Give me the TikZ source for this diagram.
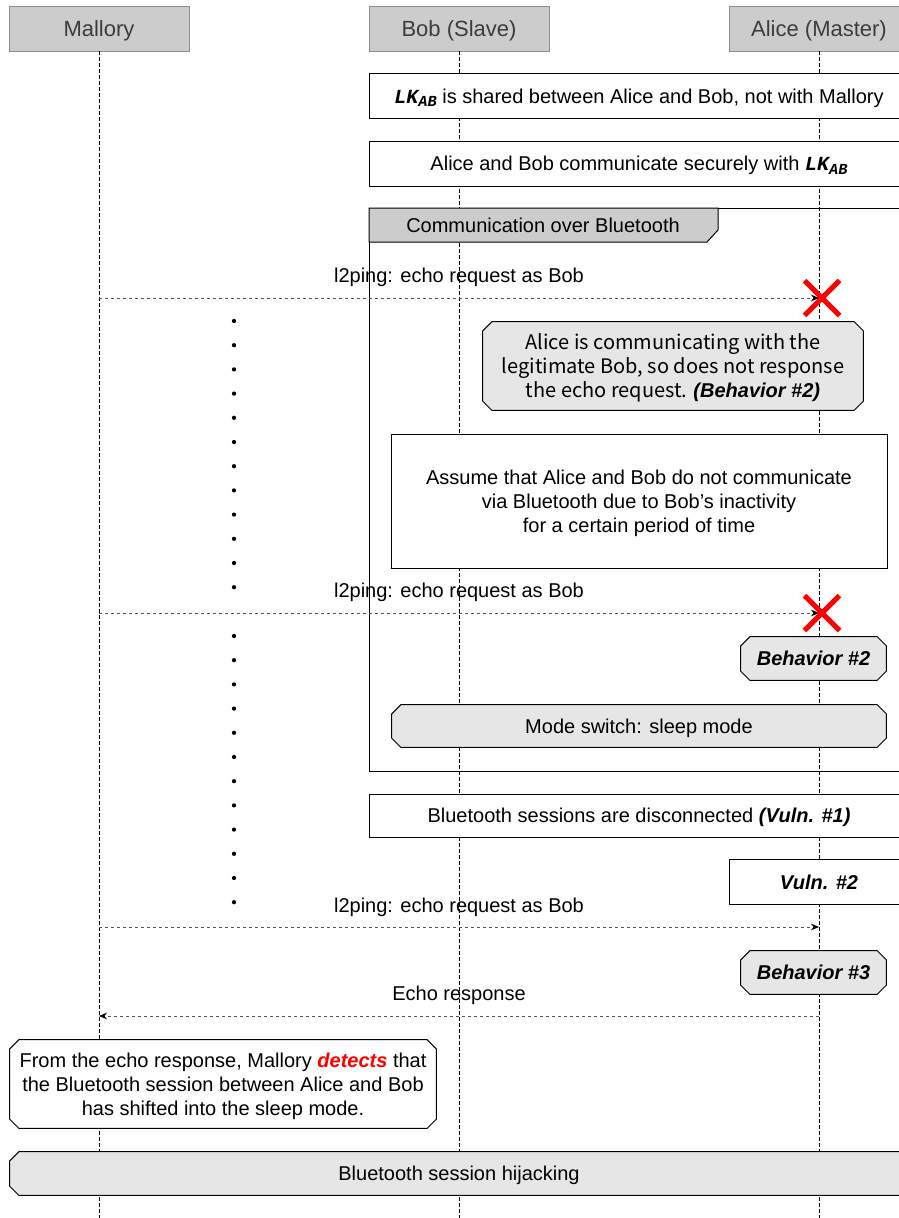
\documentclass[tikz,border=0pt]{standalone}
\usepackage{fontspec}
\setmainfont{Liberation Sans}
\newfontfamily\notefont{Noto Sans CJK JP}
\newfontfamily\lkfont{Liberation Mono}[BoldItalicFont={Liberation Mono Bold Italic}]
\usetikzlibrary{arrows.meta,positioning,shapes.misc}
\definecolor{headgray}{HTML}{CCCCCC}
\definecolor{headline}{HTML}{8C8C8C}
\definecolor{headtext}{HTML}{3C3C3C}
\definecolor{notegray}{HTML}{E6E6E6}
\definecolor{arrowgray}{HTML}{555555}
\newcommand{\txtfont}{\fontsize{15}{18}\selectfont}
\newcommand{\headfont}{\fontsize{16.5}{20}\selectfont}
\newcommand{\lkab}{{\lkfont\bfseries\itshape LK\raisebox{-0.35ex}{\fontsize{11.5}{12}\selectfont AB}}}
\newcommand{\bitext}[1]{{\normalfont\bfseries\itshape #1}}
\tikzset{
  headbox/.style={rectangle, draw=headline, fill=headgray, text=headtext,
    minimum width=135pt, minimum height=33.75pt, font=\headfont,
    inner sep=0pt, text depth=0pt},
  msgbox/.style={rectangle, draw=black, fill=white, line width=0.75pt,
    minimum width=#1, minimum height=33.3pt,
    font=\txtfont, align=center, inner sep=0pt, text depth=0pt},
  msgbox/.default=405pt,
  % octagon outline drawn inside the node rectangle
  notebox/.style={rectangle, font=\txtfont, align=center, inner sep=0pt,
    text depth=0pt,
    path picture={
      \draw[fill=#1, line width=0.75pt]
        ([xshift=7.5pt,yshift=-0.4pt]path picture bounding box.north west)
        -- ([xshift=-7.5pt,yshift=-0.4pt]path picture bounding box.north east)
        -- ([xshift=-0.4pt,yshift=-7.5pt]path picture bounding box.north east)
        -- ([xshift=-0.4pt,yshift=7.5pt]path picture bounding box.south east)
        -- ([xshift=-7.5pt,yshift=0.4pt]path picture bounding box.south east)
        -- ([xshift=7.5pt,yshift=0.4pt]path picture bounding box.south west)
        -- ([xshift=0.4pt,yshift=7.5pt]path picture bounding box.south west)
        -- ([xshift=0.4pt,yshift=-7.5pt]path picture bounding box.north west)
        -- cycle;
    }},
  notebox/.default=notegray,
  lifeline/.style={draw=black, line width=0.75pt, dash pattern=on 2.5pt off 2pt},
  msgarrow/.style={-{Stealth[length=6pt,width=5pt,black]}, draw=arrowgray,
    line width=0.75pt, dash pattern=on 2.25pt off 2.25pt},
  labelnode/.style={font=\txtfont, inner sep=0pt, text depth=0pt},
  xmark/.style={cross out, draw=red, line width=3.75pt,
    minimum size=22.5pt, inner sep=0pt},
}

\begin{document}
\begin{tikzpicture}[x=0.75pt,y=-0.75pt]
    \useasboundingbox (0,0) rectangle (899,1218);
    \clip (0,0) rectangle (899,1218);
    \coordinate (bottom) at (0,1218);

    % participants
    \node[headbox] (mallory) at (99,28.5) {Mallory};
    \node[headbox] (bob) at (459,28.5) {Bob (Slave)};
    \node[headbox] (alice) at (819,28.5) {Alice (Master)};

    \foreach \p in {mallory,bob,alice}
        \draw[lifeline] (\p.south) -- (\p |- bottom);

    % shared key
    \node[msgbox] (shared) at (639,96) {\lkab{} is shared between Alice and Bob, not with Mallory};
    \node[msgbox, minimum height=33.75pt] (secure) at (639,163.5) {Alice and Bob communicate securely with \lkab};

    % fragment: communication over Bluetooth
    \draw[line width=0.75pt] (369,208) rectangle (909,771);
    \draw[line width=0.75pt, fill=headgray] (369,208) -- (718,208) -- (718,230)
        -- (707,242) -- (369,242) -- cycle;
    \node[labelnode] (frag) at (543,225) {Communication over Bluetooth};

    % first echo request
    \coordinate (m1) at (mallory |- 0,298);
    \coordinate (a1) at (alice |- 0,298);
    \draw[msgarrow] (m1) -- (a1);
    \node[labelnode] (req1) at (459,275) {l2ping: echo request as Bob};
    \node[xmark] (x1) at (822,298) {};

    \node[notebox, minimum width=286.5pt, minimum height=67.5pt,
          font=\notefont\txtfont] (busy) at (673,366)
        {Alice is communicating with the\\legitimate Bob, so does not response\\
         the echo request. \bitext{(Behavior \#2)}};

    \node[msgbox=372pt, minimum height=100.5pt] (idle) at (639,501)
        {Assume that Alice and Bob do not communicate\\via Bluetooth due to Bob's inactivity\\
         for a certain period of time};

    % second echo request
    \coordinate (m2) at (mallory |- 0,613);
    \coordinate (a2) at (alice |- 0,613);
    \draw[msgarrow] (m2) -- (a2);
    \node[labelnode] (req2) at (459,590) {l2ping: echo request as Bob};
    \node[xmark] (x2) at (822,613) {};

    \node[notebox, minimum width=110.25pt, minimum height=33.75pt] (beh2) at (813.5,658.5)
        {\bitext{Behavior \#2}};
    \node[notebox, minimum width=372pt, minimum height=33pt] (sleep) at (639,726)
        {Mode switch: sleep mode};

    \node[msgbox, minimum height=32.25pt] (disc) at (639,815.5)
        {Bluetooth sessions are disconnected \bitext{(Vuln. \#1)}};
    \node[msgbox=135pt] (vuln2) at (819,882) {\bitext{Vuln. \#2}};

    % third echo request
    \coordinate (m3) at (mallory |- 0,927);
    \coordinate (a3) at (alice |- 0,927);
    \draw[msgarrow] (m3) -- (a3);
    \node[labelnode] (req3) at (459,905) {l2ping: echo request as Bob};

    \node[notebox, minimum width=110.25pt, minimum height=33.75pt] (beh3) at (813.5,972.5)
        {\bitext{Behavior \#3}};

    % echo response
    \coordinate (m4) at (mallory |- 0,1016);
    \coordinate (a4) at (alice |- 0,1016);
    \draw[msgarrow] (a4) -- (m4);
    \node[labelnode] (resp) at (459,993) {Echo response};

    % waiting dots
    \foreach \i in {0,...,11} {
        \fill (234,{321+24.2*\i}) circle (1.6pt);
        \fill (234,{636+24.2*\i}) circle (1.6pt);
    }

    % detection and hijacking
    \node[notebox=white, minimum width=321pt, minimum height=67.5pt] (detect) at (223,1084)
        {From the echo response, Mallory \textcolor{red}{\bitext{detects}} that\\
         the Bluetooth session between Alice and Bob\\has shifted into the sleep mode.};
    \node[notebox, minimum width=675pt, minimum height=33.75pt] (hijack) at (459,1173.5)
        {Bluetooth session hijacking};
\end{tikzpicture}
\end{document}
